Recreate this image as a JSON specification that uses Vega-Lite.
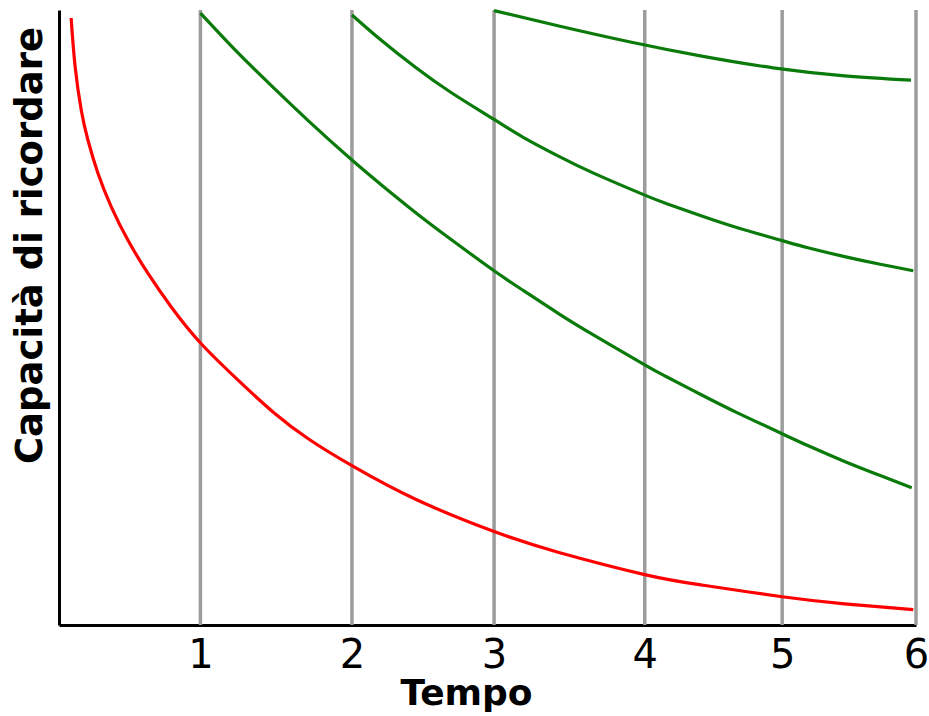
{
  "$schema": "https://vega.github.io/schema/vega-lite/v6.json",
  "width": 857,
  "height": 615,
  "autosize": {"type": "none"},
  "padding": {"left": 59, "top": 10, "right": 13, "bottom": 91},
  "background": "white",
  "config": {
    "view": {"stroke": null},
    "axis": {
      "domainColor": "black",
      "domainWidth": 3,
      "ticks": false,
      "tickSize": 0,
      "grid": false,
      "zindex": 1
    }
  },
  "datasets": {
    "linee": [
      {"t": 0.99}, {"t": 2.051}, {"t": 3.046}, {"t": 4.101}, {"t": 5.063}, {"t": 6.0}
    ],
    "curve": [
      {"curva": "dimenticanza", "t": 0.085, "v": 98.7},
      {"curva": "dimenticanza", "t": 0.113, "v": 90.8},
      {"curva": "dimenticanza", "t": 0.156, "v": 83.7},
      {"curva": "dimenticanza", "t": 0.202, "v": 78.9},
      {"curva": "dimenticanza", "t": 0.272, "v": 73.5},
      {"curva": "dimenticanza", "t": 0.366, "v": 68.0},
      {"curva": "dimenticanza", "t": 0.482, "v": 62.6},
      {"curva": "dimenticanza", "t": 0.622, "v": 57.2},
      {"curva": "dimenticanza", "t": 0.786, "v": 51.7},
      {"curva": "dimenticanza", "t": 0.989, "v": 45.9},
      {"curva": "dimenticanza", "t": 1.25, "v": 39.9},
      {"curva": "dimenticanza", "t": 1.5, "v": 34.6},
      {"curva": "dimenticanza", "t": 1.75, "v": 30.2},
      {"curva": "dimenticanza", "t": 2.051, "v": 25.9},
      {"curva": "dimenticanza", "t": 2.5, "v": 20.4},
      {"curva": "dimenticanza", "t": 3.046, "v": 15.2},
      {"curva": "dimenticanza", "t": 3.5, "v": 11.8},
      {"curva": "dimenticanza", "t": 4.101, "v": 8.2},
      {"curva": "dimenticanza", "t": 4.5, "v": 6.5},
      {"curva": "dimenticanza", "t": 5.063, "v": 4.6},
      {"curva": "dimenticanza", "t": 5.5, "v": 3.45},
      {"curva": "dimenticanza", "t": 5.981, "v": 2.5},
      {"curva": "ripasso 1", "t": 0.99, "v": 99.5},
      {"curva": "ripasso 1", "t": 1.25, "v": 93.1},
      {"curva": "ripasso 1", "t": 1.5, "v": 87.4},
      {"curva": "ripasso 1", "t": 1.75, "v": 81.9},
      {"curva": "ripasso 1", "t": 2.051, "v": 75.6},
      {"curva": "ripasso 1", "t": 2.25, "v": 71.7},
      {"curva": "ripasso 1", "t": 2.5, "v": 67.0},
      {"curva": "ripasso 1", "t": 2.75, "v": 62.6},
      {"curva": "ripasso 1", "t": 3.046, "v": 57.6},
      {"curva": "ripasso 1", "t": 3.25, "v": 54.4},
      {"curva": "ripasso 1", "t": 3.5, "v": 50.6},
      {"curva": "ripasso 1", "t": 3.75, "v": 47.05},
      {"curva": "ripasso 1", "t": 4.101, "v": 42.3},
      {"curva": "ripasso 1", "t": 4.25, "v": 40.4},
      {"curva": "ripasso 1", "t": 4.5, "v": 37.4},
      {"curva": "ripasso 1", "t": 4.75, "v": 34.5},
      {"curva": "ripasso 1", "t": 5.063, "v": 31.1},
      {"curva": "ripasso 1", "t": 5.25, "v": 29.1},
      {"curva": "ripasso 1", "t": 5.5, "v": 26.6},
      {"curva": "ripasso 1", "t": 5.75, "v": 24.3},
      {"curva": "ripasso 1", "t": 5.97, "v": 22.3},
      {"curva": "ripasso 2", "t": 2.051, "v": 99.2},
      {"curva": "ripasso 2", "t": 2.25, "v": 95.2},
      {"curva": "ripasso 2", "t": 2.5, "v": 90.6},
      {"curva": "ripasso 2", "t": 2.75, "v": 86.5},
      {"curva": "ripasso 2", "t": 3.046, "v": 82.2},
      {"curva": "ripasso 2", "t": 3.25, "v": 79.3},
      {"curva": "ripasso 2", "t": 3.5, "v": 76.2},
      {"curva": "ripasso 2", "t": 3.75, "v": 73.4},
      {"curva": "ripasso 2", "t": 4.101, "v": 69.9},
      {"curva": "ripasso 2", "t": 4.25, "v": 68.55},
      {"curva": "ripasso 2", "t": 4.5, "v": 66.5},
      {"curva": "ripasso 2", "t": 4.75, "v": 64.6},
      {"curva": "ripasso 2", "t": 5.063, "v": 62.5},
      {"curva": "ripasso 2", "t": 5.25, "v": 61.3},
      {"curva": "ripasso 2", "t": 5.5, "v": 59.9},
      {"curva": "ripasso 2", "t": 5.75, "v": 58.65},
      {"curva": "ripasso 2", "t": 5.981, "v": 57.6},
      {"curva": "ripasso 3", "t": 3.046, "v": 99.9},
      {"curva": "ripasso 3", "t": 3.5, "v": 97.4},
      {"curva": "ripasso 3", "t": 4.0, "v": 94.8},
      {"curva": "ripasso 3", "t": 4.5, "v": 92.5},
      {"curva": "ripasso 3", "t": 5.0, "v": 90.6},
      {"curva": "ripasso 3", "t": 5.5, "v": 89.3},
      {"curva": "ripasso 3", "t": 5.965, "v": 88.6}
    ]
  },
  "encoding": {
    "x": {
      "field": "t",
      "type": "quantitative",
      "scale": {"domain": [0, 6], "nice": false, "zero": false},
      "axis": {
        "values": [0.99, 2.051, 3.046, 4.101, 5.063, 6.0],
        "labelExpr": "format(round(datum.value), 'd')",
        "labelFont": "DejaVu Sans",
        "labelFontSize": 40,
        "labelColor": "black",
        "labelPadding": 10,
        "labelFlush": false,
        "labelOverlap": false,
        "title": "Tempo",
        "titleFont": "DejaVu Sans",
        "titleFontWeight": "bold",
        "titleFontSize": 36,
        "titleColor": "black",
        "titleX": 407,
        "titleY": 79,
        "titleAlign": "center",
        "titleBaseline": "alphabetic"
      }
    }
  },
  "layer": [
    {
      "data": {"name": "linee"},
      "mark": {"type": "rule", "color": "#9c9c9c", "strokeWidth": 3.5}
    },
    {
      "data": {"name": "curve"},
      "mark": {"type": "line", "interpolate": "natural", "strokeWidth": 3.2, "strokeCap": "butt"},
      "encoding": {
        "y": {
          "field": "v",
          "type": "quantitative",
          "scale": {"domain": [0, 100], "nice": false, "zero": false},
          "axis": {
            "labels": false,
            "title": "Capacità di ricordare",
            "titleFont": "DejaVu Sans",
            "titleFontWeight": "bold",
            "titleFontSize": 37,
            "titleColor": "black",
            "titleAngle": -90,
            "titleX": -17.5,
            "titleY": 235,
            "titleAlign": "center",
            "titleBaseline": "alphabetic"
          }
        },
        "color": {
          "field": "curva",
          "type": "nominal",
          "scale": {
            "domain": ["dimenticanza", "ripasso 1", "ripasso 2", "ripasso 3"],
            "range": ["#ff0000", "#0a7a0a", "#0a7a0a", "#0a7a0a"]
          },
          "legend": null
        }
      }
    }
  ]
}
